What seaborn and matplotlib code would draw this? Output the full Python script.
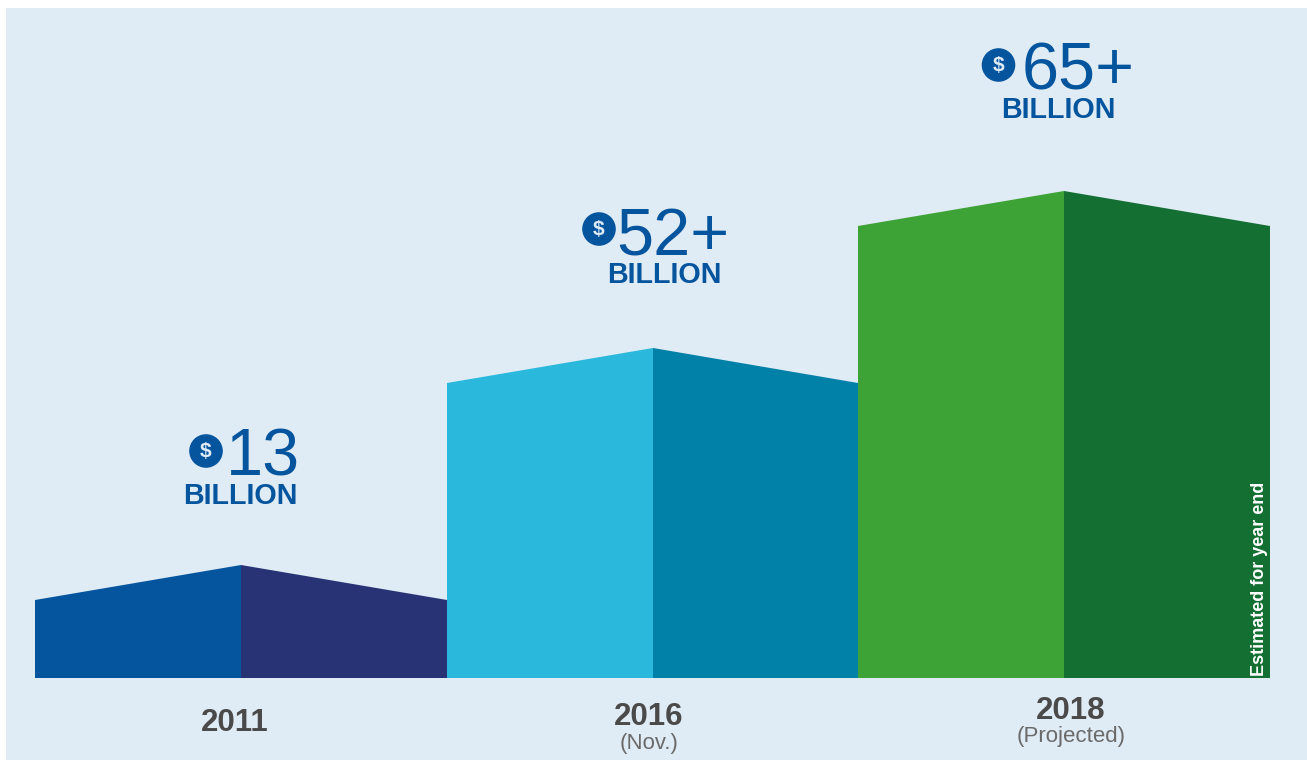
import matplotlib
matplotlib.use("Agg")
import matplotlib.pyplot as plt
from matplotlib.patches import Circle, Rectangle
import pandas as pd
import seaborn as sns

# ---- data ----
years = ["2011", "2016", "2018"]
subtitles = ["", "(Nov.)", "(Projected)"]
value_labels = ["13", "52+", "65+"]
wall_heights = [78, 295, 452]      # height of the outer edge of each block
roof_rises = [35, 35, 35]          # extra height at the block's centre ridge
left_colors = ["#05559e", "#2ab9dc", "#3ea336"]
right_colors = ["#283376", "#0281a8", "#136f32"]

PANEL = "#dfebf5"
BLUE = "#05559e"
DARK = "#4a4a4a"
GREY = "#6a6a6a"
FONT = "Liberation Sans"

sns.set_theme(style="white")
plt.rcParams["font.family"] = [FONT, "DejaVu Sans"]

W, H = 1307, 760
fig = plt.figure(figsize=(W / 100, H / 100), dpi=100, facecolor="white")
px = fig.dpi_scale_trans


def P(x, y):
    return x / 100, (H - y) / 100


fig.add_artist(Rectangle(P(6, 760), 1301 / 100, 752 / 100, transform=px,
                         facecolor=PANEL, edgecolor="none", zorder=-1))

ax = fig.add_axes([35 / W, (H - 678) / H, 1235 / W, 670 / H])
ax.patch.set_alpha(0)

df = pd.DataFrame({
    "year": years * 2,
    "side": ["left"] * 3 + ["right"] * 3,
    "height": wall_heights * 2,
})
sns.barplot(data=df, x="year", y="height", hue="side", order=years,
            hue_order=["left", "right"], width=1, gap=0, dodge=True,
            legend=False, ax=ax, linewidth=0, saturation=1)

colors = left_colors + right_colors
for bar, c in zip(ax.patches, colors):
    bar.set_facecolor(c)
    bar.set_edgecolor("none")

for i, (wall, rise) in enumerate(zip(wall_heights, roof_rises)):
    for poly in (ax.fill([i - .5, i, i], [wall, wall + rise, wall], color=left_colors[i], lw=0)
                 + ax.fill([i, i + .5, i], [wall + rise, wall, wall], color=right_colors[i], lw=0)):
        poly.set_snap(True)

ax.set_xlim(-.5, 2.5)
ax.set_ylim(0, 670)
ax.set_xticks([])
ax.set_yticks([])
ax.set_xlabel("")
ax.set_ylabel("")
sns.despine(ax=ax, left=True, bottom=True)

# ---- value call-outs ----
circle_xy = [(206, 451), (599, 229), (998.5, 65)]
number_xy = [(225.5, 475), (616.5, 255.5), (1022, 89)]
billion_xy = [(240.5, 503.5), (664, 283), (1058, 117.5)]
for (cx, cy), (nx, ny), (bx, by), label in zip(circle_xy, number_xy, billion_xy, value_labels):
    fig.add_artist(Circle(P(cx, cy), 16.8 / 100, transform=px, facecolor=BLUE,
                          edgecolor="none", zorder=4))
    fig.text(*P(cx, cy + .5), "$", transform=px, color=PANEL, fontsize=15, fontweight="bold",
             ha="center", va="center", zorder=5)
    fig.text(*P(nx, ny), label, transform=px, color=BLUE, fontsize=48,
             ha="left", va="baseline", zorder=5)
    fig.text(*P(bx, by), "BILLION", transform=px, color=BLUE, fontsize=20.7,
             fontweight="bold", ha="center", va="baseline", zorder=5)

# ---- year labels ----
year_xy = [(235, 731), (649, 725), (1071, 719)]
sub_xy = [None, (649, 749), (1071, 742)]
for (x, y), sxy, yr, sub in zip(year_xy, sub_xy, years, subtitles):
    fig.text(*P(x, y), yr, transform=px, color=DARK, fontsize=22.5, fontweight="bold",
             ha="center", va="baseline", zorder=5)
    if sub:
        fig.text(*P(*sxy), sub, transform=px, color=GREY, fontsize=16,
                 ha="center", va="baseline", zorder=5)

fig.text(*P(1259, 676), "Estimated for year end", transform=px, color="white", fontsize=13,
         fontweight="bold", rotation=90, ha="center", va="bottom", zorder=5)

fig.savefig("out.png", dpi=100, facecolor="white")
